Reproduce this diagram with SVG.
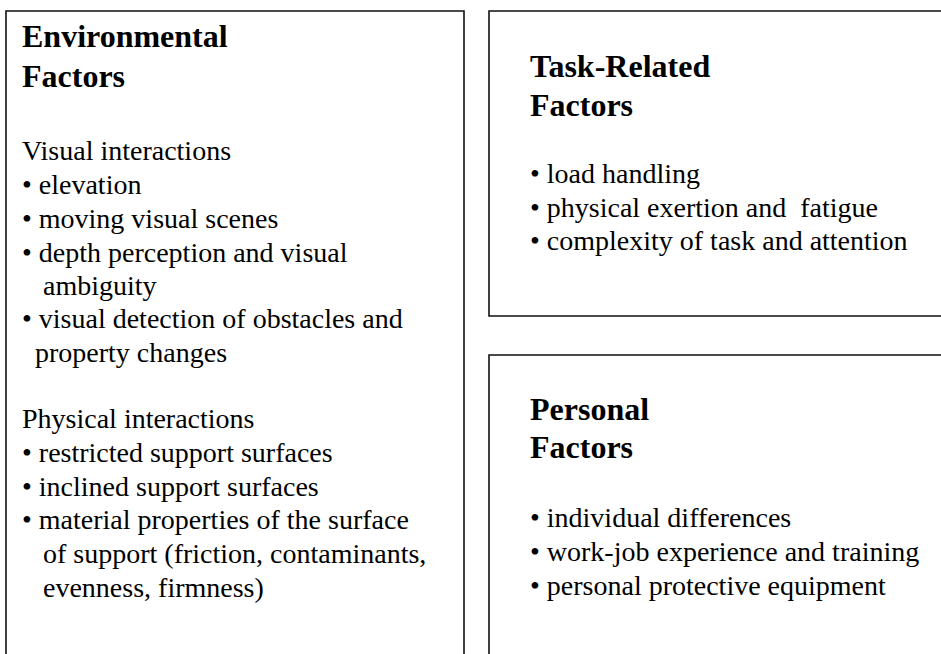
<svg xmlns="http://www.w3.org/2000/svg" width="941" height="654" viewBox="0 0 941 654">
<style>
.box{fill:none;stroke:#111;stroke-width:1.6}
.h{font-family:"Liberation Serif","Times New Roman",serif;font-weight:bold;font-size:32px;fill:#000}
.t{font-family:"Liberation Serif","Times New Roman",serif;font-size:28px;fill:#000;white-space:pre}
</style>
<rect x="0" y="0" width="941" height="654" fill="#fff"/>
<g id="environmental">
<path class="box" d="M6,660 V11 H464 V660"/>
<text class="h" x="22" y="47">Environmental</text>
<text class="h" x="22" y="87">Factors</text>
<text class="t" x="22" y="160">Visual interactions</text>
<text class="t" x="22" y="194">• elevation</text>
<text class="t" x="22" y="228">• moving visual scenes</text>
<text class="t" x="22" y="262">• depth perception and visual</text>
<text class="t" x="43" y="295">ambiguity</text>
<text class="t" x="22" y="328">• visual detection of obstacles and</text>
<text class="t" x="35" y="362">property changes</text>
<text class="t" x="22" y="428">Physical interactions</text>
<text class="t" x="22" y="462">• restricted support surfaces</text>
<text class="t" x="22" y="496">• inclined support surfaces</text>
<text class="t" x="22" y="529">• material properties of the surface</text>
<text class="t" x="43" y="563">of support (friction, contaminants,</text>
<text class="t" x="43" y="597">evenness, firmness)</text>
</g>
<g id="task">
<path class="box" d="M945,11 H489 V316 H945"/>
<text class="h" x="530" y="77">Task-Related</text>
<text class="h" x="530" y="116">Factors</text>
<text class="t" x="530" y="183">• load handling</text>
<text class="t" x="530" y="217">• physical exertion and  fatigue</text>
<text class="t" x="530" y="250">• complexity of task and attention</text>
</g>
<g id="personal">
<path class="box" d="M945,355 H489 V660"/>
<text class="h" x="530" y="420">Personal</text>
<text class="h" x="530" y="458">Factors</text>
<text class="t" x="530" y="527">• individual differences</text>
<text class="t" x="530" y="561">• work-job experience and training</text>
<text class="t" x="530" y="595">• personal protective equipment</text>
</g>
<g id="connectors"/>
</svg>
